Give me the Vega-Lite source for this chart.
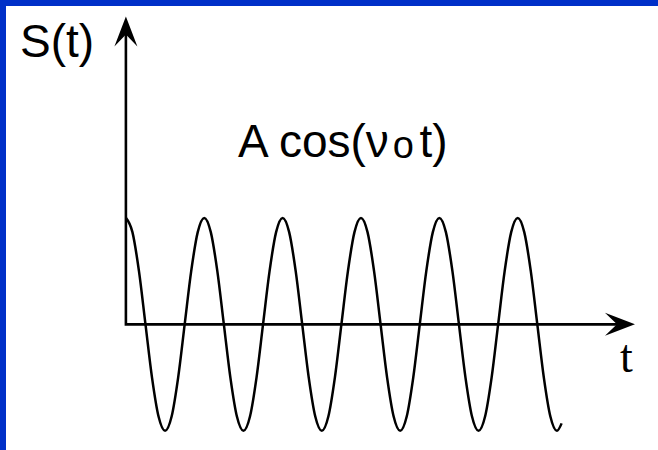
{
  "$schema": "https://vega.github.io/schema/vega-lite/v6.json",
  "width": 658,
  "height": 450,
  "autosize": {"type": "fit", "contains": "padding"},
  "padding": {"left": 6, "top": 6, "right": 0, "bottom": 0},
  "background": "#0030c8",
  "config": {"view": {"fill": "white", "stroke": null}},
  "datasets": {
    "wave": [
      {"t": 0, "S": 1}, {"t": 0.0833, "S": 0.866}, {"t": 0.1667, "S": 0.5}, {"t": 0.25, "S": 0}, {"t": 0.3333, "S": -0.5}, {"t": 0.4167, "S": -0.866},
      {"t": 0.5, "S": -1}, {"t": 0.5833, "S": -0.866}, {"t": 0.6667, "S": -0.5}, {"t": 0.75, "S": 0}, {"t": 0.8333, "S": 0.5}, {"t": 0.9167, "S": 0.866},
      {"t": 1, "S": 1}, {"t": 1.0833, "S": 0.866}, {"t": 1.1667, "S": 0.5}, {"t": 1.25, "S": 0}, {"t": 1.3333, "S": -0.5}, {"t": 1.4167, "S": -0.866},
      {"t": 1.5, "S": -1}, {"t": 1.5833, "S": -0.866}, {"t": 1.6667, "S": -0.5}, {"t": 1.75, "S": 0}, {"t": 1.8333, "S": 0.5}, {"t": 1.9167, "S": 0.866},
      {"t": 2, "S": 1}, {"t": 2.0833, "S": 0.866}, {"t": 2.1667, "S": 0.5}, {"t": 2.25, "S": 0}, {"t": 2.3333, "S": -0.5}, {"t": 2.4167, "S": -0.866},
      {"t": 2.5, "S": -1}, {"t": 2.5833, "S": -0.866}, {"t": 2.6667, "S": -0.5}, {"t": 2.75, "S": 0}, {"t": 2.8333, "S": 0.5}, {"t": 2.9167, "S": 0.866},
      {"t": 3, "S": 1}, {"t": 3.0833, "S": 0.866}, {"t": 3.1667, "S": 0.5}, {"t": 3.25, "S": 0}, {"t": 3.3333, "S": -0.5}, {"t": 3.4167, "S": -0.866},
      {"t": 3.5, "S": -1}, {"t": 3.5833, "S": -0.866}, {"t": 3.6667, "S": -0.5}, {"t": 3.75, "S": 0}, {"t": 3.8333, "S": 0.5}, {"t": 3.9167, "S": 0.866},
      {"t": 4, "S": 1}, {"t": 4.0833, "S": 0.866}, {"t": 4.1667, "S": 0.5}, {"t": 4.25, "S": 0}, {"t": 4.3333, "S": -0.5}, {"t": 4.4167, "S": -0.866},
      {"t": 4.5, "S": -1}, {"t": 4.5833, "S": -0.866}, {"t": 4.6667, "S": -0.5}, {"t": 4.75, "S": 0}, {"t": 4.8333, "S": 0.5}, {"t": 4.9167, "S": 0.866},
      {"t": 5, "S": 1}, {"t": 5.0833, "S": 0.866}, {"t": 5.1667, "S": 0.5}, {"t": 5.25, "S": 0}, {"t": 5.3333, "S": -0.5}, {"t": 5.4167, "S": -0.866},
      {"t": 5.5, "S": -1}, {"t": 5.56, "S": -0.93}
    ],
    "axes": [
      {"t": 0, "S": 2.8, "o": 0},
      {"t": 0, "S": 0, "o": 1},
      {"t": 6.4, "S": 0, "o": 2}
    ],
    "tips": [
      {"axis": "S", "t": 0, "S": 2.892},
      {"axis": "t", "t": 6.496, "S": 0}
    ],
    "labels": [
      {"role": "ylabel", "text": "S(t)", "t": -1.351, "S": 2.511},
      {"role": "main", "text": "A cos(ν", "t": 1.43, "S": 1.572},
      {"role": "sub", "text": "o", "t": 3.405, "S": 1.562},
      {"role": "main", "text": "t)", "t": 3.745, "S": 1.572},
      {"role": "xlabel", "text": "t", "t": 6.305, "S": -0.447}
    ]
  },
  "encoding": {
    "x": {"field": "t", "type": "quantitative", "axis": null, "scale": {"domain": [-1.53, 6.79], "nice": false, "zero": false}},
    "y": {"field": "S", "type": "quantitative", "axis": null, "scale": {"domain": [-1.18, 2.99], "nice": false, "zero": false}}
  },
  "layer": [
    {
      "data": {"name": "axes"},
      "mark": {"type": "line", "color": "#000000", "strokeWidth": 2.6, "strokeJoin": "miter"},
      "encoding": {"order": {"field": "o", "type": "quantitative"}}
    },
    {
      "data": {"name": "wave"},
      "mark": {"type": "line", "color": "#000000", "strokeWidth": 2.5, "interpolate": "monotone"}
    },
    {
      "data": {"name": "tips"},
      "transform": [{"filter": "datum.axis === 't'"}],
      "mark": {"type": "point", "shape": "M0,0L-1,-0.383L-0.6,0L-1,0.383Z", "size": 3600, "filled": true, "color": "#000000", "opacity": 1, "strokeWidth": 0}
    },
    {
      "data": {"name": "tips"},
      "transform": [{"filter": "datum.axis === 'S'"}],
      "mark": {"type": "point", "shape": "M0,0L-1,-0.383L-0.6,0L-1,0.383Z", "size": 3600, "angle": 270, "filled": true, "color": "#000000", "opacity": 1, "strokeWidth": 0}
    },
    {
      "data": {"name": "labels"},
      "transform": [{"filter": "datum.role === 'ylabel' || datum.role === 'main'"}],
      "mark": {"type": "text", "font": "Liberation Sans", "fontSize": 46, "align": "left", "baseline": "alphabetic", "color": "#000000"},
      "encoding": {"text": {"field": "text"}}
    },
    {
      "data": {"name": "labels"},
      "transform": [{"filter": "datum.role === 'sub'"}],
      "mark": {"type": "text", "font": "Liberation Sans", "fontSize": 38, "align": "left", "baseline": "alphabetic", "color": "#000000"},
      "encoding": {"text": {"field": "text"}}
    },
    {
      "data": {"name": "labels"},
      "transform": [{"filter": "datum.role === 'xlabel'"}],
      "mark": {"type": "text", "font": "Liberation Serif", "fontSize": 46, "align": "left", "baseline": "alphabetic", "color": "#000000"},
      "encoding": {"text": {"field": "text"}}
    }
  ]
}
